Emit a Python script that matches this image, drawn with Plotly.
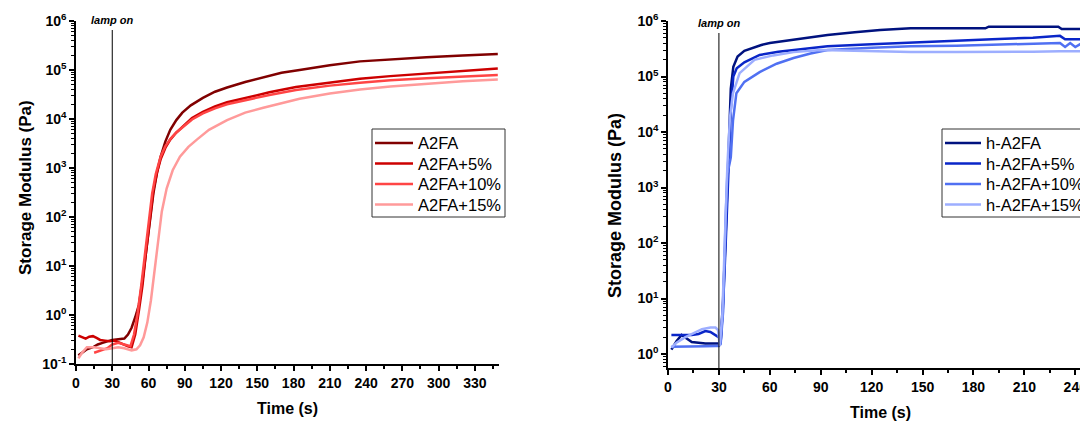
import plotly.graph_objects as go
import numpy as np

# page is offset by the browser's 8px body margin, so the figure is sized to fill the rest
OFF = 8
W, H = 1088 - OFF, 421 - OFF

# ---------------- Left panel data ----------------
left_names = ["A2FA", "A2FA+5%", "A2FA+10%", "A2FA+15%"]
left_colors = ["#800000", "#CC0000", "#FF4545", "#FF9A9A"]

a2fa_t = [2, 5, 9, 14, 18, 22, 26, 30, 35, 40, 43, 46, 49, 52, 55, 58, 61, 64, 67, 70, 74, 78, 83, 88, 95,
          105, 115, 125, 140, 155, 170, 185, 210, 235, 260, 290, 320, 349]
a2fa_g = [0.15, 0.17, 0.2, 0.22, 0.25, 0.27, 0.29, 0.31, 0.32, 0.33, 0.4, 0.55, 0.9, 1.6, 5, 20, 90, 300,
          800, 1700, 3500, 6000, 9500, 13500, 19000, 27000, 36000, 44000, 57000, 72000, 88000, 100000,
          125000, 150000, 165000, 183000, 198000, 212000]

a5_t = [2, 5, 8, 11, 14, 17, 20, 24, 28, 32, 36, 40, 43, 46, 49, 52, 55, 58, 61, 64, 67, 70, 74, 78, 83,
        88, 96, 105, 115, 125, 140, 160, 182, 210, 235, 260, 290, 320, 349]
a5_g = [0.38, 0.35, 0.33, 0.36, 0.37, 0.34, 0.31, 0.3, 0.29, 0.3, 0.27, 0.25, 0.23, 0.22, 0.4, 1.2, 4, 20,
        95, 350, 800, 1500, 2600, 3800, 5300, 7000, 10500, 14000, 18000, 22000, 27000, 35000, 45000,
        56000, 66000, 75000, 85000, 95000, 107000]

a10_t = [15, 18, 22, 26, 30, 35, 40, 45, 48, 51, 54, 57, 60, 63, 66, 70, 74, 78, 83, 88, 96, 105, 115,
         125, 140, 160, 182, 210, 235, 260, 290, 320, 349]
a10_g = [0.17, 0.18, 0.2, 0.21, 0.25, 0.27, 0.25, 0.23, 0.4, 1.1, 4, 18, 80, 300, 750, 1700, 2800, 3900,
         5300, 6800, 9800, 13000, 16500, 20000, 24500, 31000, 39000, 48000, 55000, 62000, 68000, 74000,
         79000]

a15_t = [2, 5, 9, 15, 20, 25, 30, 35, 40, 46, 50, 53, 56, 59, 62, 65, 68, 71, 75, 80, 86, 93, 100, 110,
         125, 140, 155, 170, 185, 210, 235, 260, 290, 320, 349]
a15_g = [0.13, 0.17, 0.22, 0.22, 0.21, 0.2, 0.21, 0.22, 0.21, 0.19, 0.2, 0.24, 0.35, 0.7, 2, 8, 40, 130,
         380, 900, 1700, 2700, 3800, 6000, 9500, 13500, 17000, 21000, 26000, 33000, 40000, 46000, 53000,
         59000, 64000]

left_t = [a2fa_t, a5_t, a10_t, a15_t]
left_g = [a2fa_g, a5_g, a10_g, a15_g]

# ---------------- Right panel data ----------------
right_names = ["h-A2FA", "h-A2FA+5%", "h-A2FA+10%", "h-A2FA+15%"]
right_colors = ["#00127F", "#0A26C8", "#5070F2", "#9DAEFF"]

h0_t = [2, 5, 8, 11, 14, 18, 22, 26, 30, 31, 32.5, 34, 35.5, 37, 38.5, 41, 45, 50, 55, 60, 70, 80, 94,
        110, 125, 143, 160, 187, 189, 210, 230, 232, 247]
h0_g = [1.2, 1.7, 2.2, 1.9, 1.65, 1.6, 1.55, 1.55, 1.55, 1.6, 10, 150, 3000, 60000, 150000, 230000,
        290000, 330000, 370000, 400000, 440000, 480000, 560000, 630000, 690000, 740000, 740000, 740000,
        790000, 790000, 790000, 720000, 720000]

h5_t = [2, 6, 10, 14, 18, 22, 25, 28, 30, 31, 32.5, 34, 35.5, 37, 38.5, 40.5, 45, 54, 65, 74, 94, 120,
        143, 170, 191, 215, 231, 234, 247]
h5_g = [2.2, 2.2, 2.2, 2.2, 2.3, 2.6, 2.5, 2.2, 2.0, 1.6, 8, 100, 1500, 25000, 100000, 140000, 180000,
        245000, 280000, 300000, 350000, 380000, 410000, 440000, 470000, 500000, 540000, 470000, 470000]

h10_t = [2, 8, 15, 22, 28, 30, 31, 32.5, 34, 35, 36.3, 37, 38.3, 40.3, 45, 50, 54, 64, 74, 84, 94, 120,
         143, 170, 191, 215, 231, 234, 237, 240, 244, 247]
h10_g = [1.35, 1.35, 1.35, 1.38, 1.4, 1.4, 1.5, 6, 300, 1800, 2700, 3500, 16000, 50000, 80000, 102000,
         120000, 170000, 215000, 260000, 300000, 330000, 350000, 360000, 370000, 385000, 400000, 340000,
         400000, 340000, 400000, 400000]

h15_t = [2, 5, 10, 15, 20, 25, 28, 29.5, 30.5, 32, 33.5, 35, 36.5, 38.3, 42.2, 51, 62, 74, 90, 110, 143,
         170, 191, 215, 231, 247]
h15_g = [1.3, 1.6, 2.0, 2.4, 2.8, 3.0, 3.0, 2.7, 1.4, 5, 120, 2500, 18000, 50000, 115000, 200000,
         240000, 275000, 300000, 290000, 275000, 275000, 275000, 280000, 285000, 285000]

right_t = [h0_t, h5_t, h10_t, h15_t]
right_g = [h0_g, h5_g, h10_g, h15_g]

x_ticks_left = list(range(0, 331, 30))
x_ticks_right = list(range(0, 241, 30))
y_ticks_left = [-1, 0, 1, 2, 3, 4, 5, 6]
y_ticks_right = [0, 1, 2, 3, 4, 5, 6]

FONT = "Liberation Sans, Arial, sans-serif"


def px_x(p):
    return (p - OFF) / W


def px_y(p):
    return 1 - (p - OFF) / H


def minor_log(lo, hi):
    vals = []
    for e in range(lo, hi):
        for m in range(2, 10):
            vals.append(m * 10.0 ** e)
    return vals


fig = go.Figure()
for n, c, t, g in zip(left_names, left_colors, left_t, left_g):
    fig.add_trace(go.Scatter(x=t, y=g, name=n, mode="lines", line=dict(color=c, width=2.5),
                             xaxis="x", yaxis="y", showlegend=False))
for n, c, t, g in zip(right_names, right_colors, right_t, right_g):
    fig.add_trace(go.Scatter(x=t, y=g, name=n, mode="lines", line=dict(color=c, width=2.5),
                             xaxis="x2", yaxis="y2", showlegend=False))

axis_common = dict(showline=True, linecolor="black", linewidth=1.5, showgrid=False, zeroline=False,
                   ticks="outside", ticklen=5, tickwidth=1.5, tickcolor="black", automargin=False,
                   tickfont=dict(family=FONT, size=14, color="black"))

fig.update_layout(
    width=W, height=H,
    margin=dict(l=0, r=0, t=0, b=0, autoexpand=False),
    paper_bgcolor="white", plot_bgcolor="white",
    font=dict(family=FONT, color="black"),
    showlegend=False,
    xaxis=dict(domain=[px_x(76), px_x(499)], range=[0, 350], anchor="y",
               tickmode="array", tickvals=x_ticks_left, ticktext=[f"<b>{v}</b>" for v in x_ticks_left],
               minor=dict(ticks="outside", ticklen=3, tickwidth=1.5, tickcolor="black", dtick=15, tick0=0),
               **axis_common),
    yaxis=dict(domain=[px_y(364), px_y(21)], type="log", range=[-1, 6], anchor="x",
               tickmode="array", tickvals=[10.0 ** e for e in y_ticks_left],
               ticktext=[f"<b>10<sup>{e}</sup></b>" for e in y_ticks_left],
               minor=dict(ticks="outside", ticklen=3, tickwidth=1, tickcolor="black",
                          tickmode="array", tickvals=minor_log(-1, 6)),
               **axis_common),
    xaxis2=dict(domain=[px_x(668), 1.0], range=[0, 247.5], anchor="y2",
                tickmode="array", tickvals=x_ticks_right, ticktext=[f"<b>{v}</b>" for v in x_ticks_right],
                minor=dict(ticks="outside", ticklen=3, tickwidth=1.5, tickcolor="black", dtick=15, tick0=0),
                **axis_common),
    yaxis2=dict(domain=[px_y(368), px_y(21)], type="log", range=[np.log10(0.56), 6], anchor="x2",
                tickmode="array", tickvals=[10.0 ** e for e in y_ticks_right],
                ticktext=[f"<b>10<sup>{e}</sup></b>" for e in y_ticks_right],
                minor=dict(ticks="outside", ticklen=3, tickwidth=1, tickcolor="black",
                           tickmode="array", tickvals=minor_log(-1, 6)),
                **axis_common),
)

# lamp-on markers
fig.add_shape(type="line", xref="x", yref="paper", x0=30, x1=30, y0=px_y(364), y1=px_y(30),
              line=dict(color="black", width=1))
fig.add_shape(type="line", xref="x2", yref="paper", x0=30, x1=30, y0=px_y(368), y1=px_y(33),
              line=dict(color="black", width=1))

ann = [
    dict(text="<b><i>lamp on</i></b>", x=30, xref="x", y=px_y(20), yref="paper", showarrow=False,
         font=dict(family=FONT, size=11, color="black"), xanchor="center", yanchor="middle"),
    dict(text="<b><i>lamp on</i></b>", x=30, xref="x2", y=px_y(23), yref="paper", showarrow=False,
         font=dict(family=FONT, size=11, color="black"), xanchor="center", yanchor="middle"),
    dict(text="<b>Storage Modulus (Pa)</b>", x=px_x(25), y=px_y(188), xref="paper", yref="paper",
         showarrow=False, textangle=-90, font=dict(family=FONT, size=17, color="black"),
         xanchor="center", yanchor="middle"),
    dict(text="<b>Storage Modulus (Pa)</b>", x=px_x(615), y=px_y(206), xref="paper", yref="paper",
         showarrow=False, textangle=-90, font=dict(family=FONT, size=18, color="black"),
         xanchor="center", yanchor="middle"),
    dict(text="<b>Time (s)</b>", x=px_x(287), y=px_y(408), xref="paper", yref="paper",
         showarrow=False, font=dict(family=FONT, size=16, color="black"),
         xanchor="center", yanchor="middle"),
    dict(text="<b>Time (s)</b>", x=px_x(880), y=px_y(412), xref="paper", yref="paper",
         showarrow=False, font=dict(family=FONT, size=16, color="black"),
         xanchor="center", yanchor="middle"),
]


# legend boxes (drawn as shapes + text so the compact Origin-style spacing is kept)
def add_legend(box, line_x, text_x, rows, names, colors):
    x0, y0, x1, y1 = box
    fig.add_shape(type="rect", xref="paper", yref="paper", x0=px_x(x0), x1=px_x(x1),
                  y0=px_y(y1), y1=px_y(y0), line=dict(color="#333333", width=1), fillcolor="white",
                  layer="above")
    for ry, n, c in zip(rows, names, colors):
        fig.add_shape(type="line", xref="paper", yref="paper", x0=px_x(line_x[0]), x1=px_x(line_x[1]),
                      y0=px_y(ry), y1=px_y(ry), line=dict(color=c, width=2.5), layer="above")
        ann.append(dict(text=n, x=px_x(text_x), y=px_y(ry), xref="paper", yref="paper", showarrow=False,
                        xanchor="left", yanchor="middle",
                        font=dict(family=FONT, size=16.5, color="black")))


legend_rows = [143, 163.5, 184, 204.5]
add_legend((372, 129, 505, 217), (375, 413), 416, legend_rows, left_names, left_colors)
add_legend((942, 129, 1100, 217), (945, 981), 984, legend_rows, right_names, right_colors)

fig.update_layout(annotations=ann)

fig.write_html("out.html")
